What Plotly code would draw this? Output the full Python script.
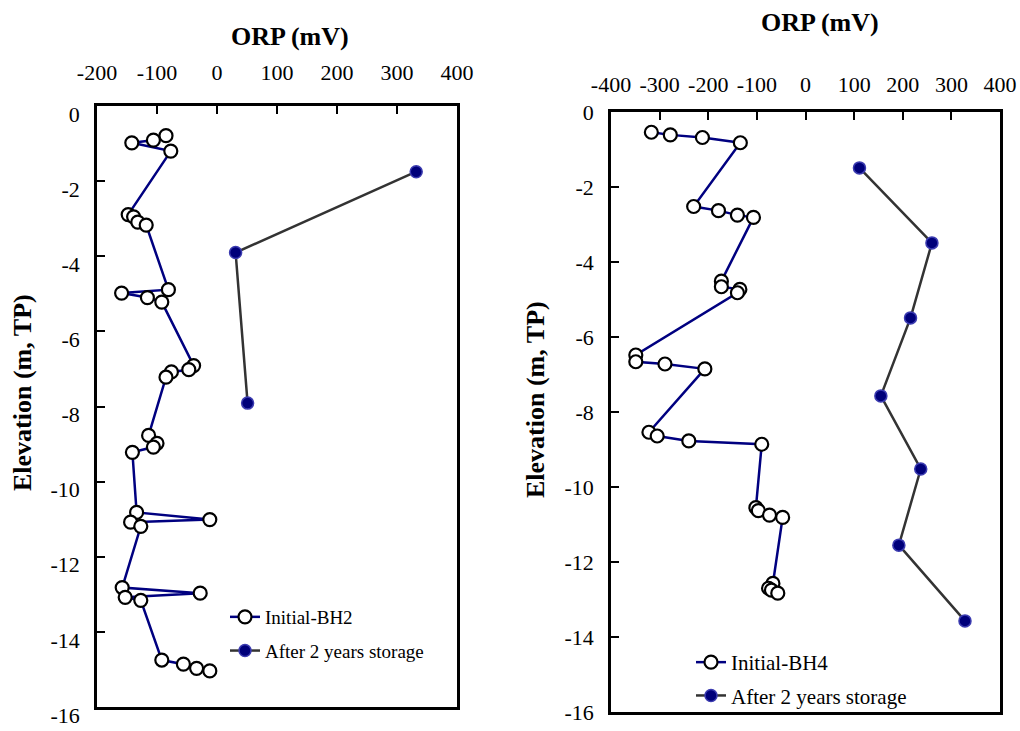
import plotly.graph_objects as go

# ---------------- data ----------------
bh2_init_orp = [-85, -106, -142, -77, -148, -139, -132, -118, -81, -159, -116, -92,
                -39, -47, -76, -85, -114, -100, -106, -141, -134, -12, -144, -127,
                -158, -28, -153, -127, -92, -56, -34, -12]
bh2_init_elev = [-0.79, -0.91, -0.98, -1.2, -2.89, -2.95, -3.09, -3.17, -4.89, -4.98, -5.1, -5.22,
                 -6.91, -7.02, -7.08, -7.22, -8.77, -8.98, -9.08, -9.22, -10.82, -11.01, -11.08, -11.19,
                 -12.82, -12.97, -13.08, -13.16, -14.75, -14.86, -14.97, -15.04]
bh2_after_orp = [332, 31, 51]
bh2_after_elev = [-1.75, -3.9, -7.91]

bh4_init_orp = [-317, -278, -212, -134, -230, -179, -140, -107, -173, -173, -135, -140,
                -349, -349, -289, -207, -322, -305, -240, -90, -102, -97, -74, -47,
                -67, -76, -70, -57]
bh4_init_elev = [-0.54, -0.61, -0.68, -0.82, -2.52, -2.63, -2.75, -2.81, -4.51, -4.66, -4.73, -4.82,
                 -6.48, -6.66, -6.72, -6.85, -8.54, -8.64, -8.77, -8.86, -10.55, -10.63, -10.75, -10.81,
                 -12.57, -12.7, -12.75, -12.83]
bh4_after_orp = [111, 260, 216, 155, 237, 192, 328]
bh4_after_elev = [-1.49, -3.49, -5.49, -7.57, -9.52, -11.55, -13.57]

x_ticks_left = [-200, -100, 0, 100, 200, 300, 400]
x_ticks_right = [-400, -300, -200, -100, 0, 100, 200, 300, 400]
y_ticks = [0, -2, -4, -6, -8, -10, -12, -14, -16]

FONT = "Liberation Serif"
W, H = 1020, 731

init_marker = dict(symbol="circle", size=13, color="white", line=dict(color="black", width=2.2))
after_marker = dict(symbol="circle", size=12, color="#00007a", line=dict(color="#3b3bb0", width=1.5))

fig = go.Figure()
fig.add_trace(go.Scatter(x=bh2_init_orp, y=bh2_init_elev, mode="lines+markers", name="Initial-BH2",
                         line=dict(color="#000080", width=2.5), marker=init_marker,
                         xaxis="x", yaxis="y", legend="legend", legendgroup="a"))
fig.add_trace(go.Scatter(x=bh2_after_orp, y=bh2_after_elev, mode="lines+markers", name="After 2 years storage",
                         line=dict(color="#333333", width=2.5), marker=after_marker,
                         xaxis="x", yaxis="y", legend="legend", legendgroup="b"))
fig.add_trace(go.Scatter(x=bh4_init_orp, y=bh4_init_elev, mode="lines+markers", name="Initial-BH4",
                         line=dict(color="#000080", width=2.5), marker=init_marker,
                         xaxis="x2", yaxis="y2", legend="legend2", legendgroup="c"))
fig.add_trace(go.Scatter(x=bh4_after_orp, y=bh4_after_elev, mode="lines+markers", name="After 2 years storage",
                         line=dict(color="#333333", width=2.5), marker=after_marker,
                         xaxis="x2", yaxis="y2", legend="legend2", legendgroup="d"))

def px_x(p):
    return p / W

def px_y(p):
    return 1 - p / H

def lbl(vals):
    return [str(v) for v in vals]  # plain hyphen-minus like the original

axis_common = dict(showgrid=False, zeroline=False, showline=True, linecolor="black", linewidth=2.5,
                   mirror=True, ticks="inside", ticklen=8, tickwidth=2, tickcolor="black",
                   automargin=False, tickfont=dict(family=FONT, size=22, color="black"))

def title_ann(text, x, y, angle=0):
    return dict(text=text, x=px_x(x), y=px_y(y), xref="paper", yref="paper", xanchor="center",
                yanchor="middle", showarrow=False, textangle=angle,
                font=dict(family=FONT, size=26, color="black"))

fig.update_layout(
    template="none",
    width=W, height=H, margin=dict(l=0, r=0, t=0, b=0),
    paper_bgcolor="white", plot_bgcolor="white",
    font=dict(family=FONT, color="black"),
    xaxis=dict(domain=[px_x(97), px_x(457)], range=[-200, 400], side="top", anchor="y",
               tickvals=x_ticks_left, ticktext=lbl(x_ticks_left), ticklabelstandoff=14, **axis_common),
    yaxis=dict(domain=[px_y(707), px_y(106)], range=[-16, 0], anchor="x",
               tickvals=y_ticks, ticktext=lbl(y_ticks), ticklabelstandoff=10, ticklabelshift=8, **axis_common),
    xaxis2=dict(domain=[px_x(611), px_x(1000)], range=[-400, 400], side="top", anchor="y2",
                tickvals=x_ticks_right, ticktext=lbl(x_ticks_right), ticklabelstandoff=8, **axis_common),
    yaxis2=dict(domain=[px_y(712), px_y(112)], range=[-16, 0], anchor="x2",
                tickvals=y_ticks, ticktext=lbl(y_ticks), ticklabelstandoff=10, **axis_common),
    legend=dict(x=px_x(225), y=px_y(598), xanchor="left", yanchor="top", bgcolor="rgba(0,0,0,0)",
                font=dict(family=FONT, size=19, color="black"), tracegroupgap=6, itemwidth=30),
    legend2=dict(x=px_x(691), y=px_y(642), xanchor="left", yanchor="top", bgcolor="rgba(0,0,0,0)",
                 font=dict(family=FONT, size=21, color="black"), tracegroupgap=3, itemwidth=30),
    annotations=[
        title_ann("<b>ORP (mV)</b>", 290, 37),
        title_ann("<b>ORP (mV)</b>", 820, 23),
        title_ann("<b>Elevation (m, TP)</b>", 22, 393, -90),
        title_ann("<b>Elevation (m, TP)</b>", 535, 400, -90),
    ],
)

fig.write_html("out.html", config={"displayModeBar": False},
               post_script="document.body.style.margin='0';")
